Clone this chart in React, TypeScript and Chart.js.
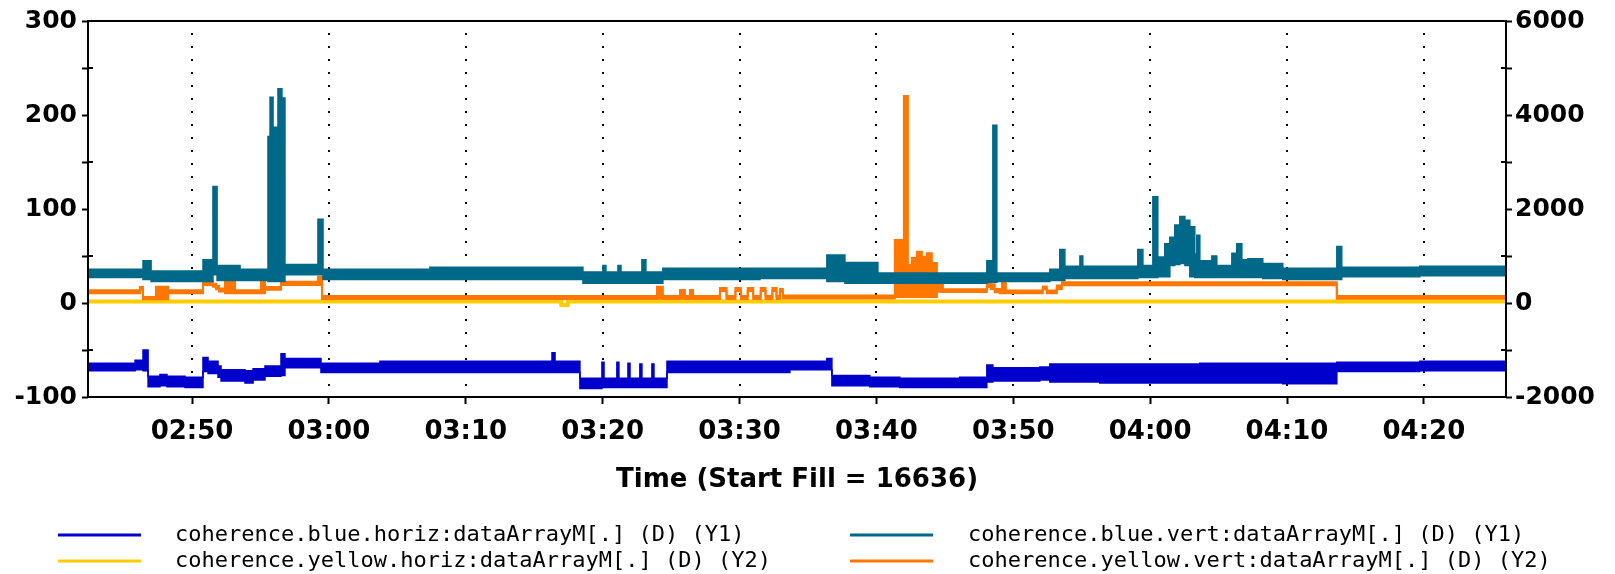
import React, { useEffect, useRef } from 'react';
import { Chart, registerables } from 'chart.js';

Chart.register(...registerables);

// ---- axis ranges / ticks (time in minutes after midnight) ----
const X_MIN = 162.4;
const X_MAX = 266.0;
const X_TICKS = [170, 180, 190, 200, 210, 220, 230, 240, 250, 260];
const Y1_MIN = -100;
const Y1_MAX = 300;
const Y2_MIN = -2000;
const Y2_MAX = 6000;

// ---- series: [time, upper edge, lower edge] of the plotted noisy trace ----
const BLUE_HORIZ: [number, number, number][] = [
  [162.4, -64, -72], [165.84, -61, -71], [166.42, -50, -72], [166.79, -78, -89],
  [167.66, -76, -88], [168.17, -78, -89], [169.49, -79, -90], [170.8, -58, -73],
  [171.17, -62, -75], [171.9, -67, -79], [172.12, -71, -83], [173.87, -72, -85],
  [174.46, -70, -82], [175.33, -67, -78], [176.5, -54, -77], [176.79, -59, -69],
  [179.42, -64, -74], [183.73, -62, -74], [196.3, -53, -74], [196.52, -62, -74],
  [198.34, -80, -91], [199.95, -63, -90], [200.1, -80, -90], [201.04, -63, -90],
  [201.19, -80, -90], [201.85, -64, -90], [202.0, -80, -90], [202.72, -65, -90],
  [202.87, -80, -90], [203.6, -65, -90], [203.75, -80, -90], [204.7, -62, -74],
  [213.68, -62, -71], [216.38, -59, -71], [216.75, -77, -88], [219.52, -79, -89],
  [221.71, -80, -90], [226.09, -79, -90], [228.07, -66, -84], [228.51, -69, -83],
  [231.94, -68, -82], [232.67, -65, -84], [236.32, -65, -85], [243.63, -64, -85],
  [249.69, -64, -86], [253.64, -63, -73], [259.7, -62, -72], [266.0, -62, -72],
];

const BLUE_VERT: [number, number, number][] = [
  [162.4, 36, 27], [166.42, 45, 25], [167.01, 34, 23], [170.8, 46, 23],
  [171.53, 124, 30], [171.83, 40, 24], [173.51, 36, 24], [175.55, 177, 23],
  [175.7, 219, 23], [175.92, 187, 23], [176.28, 228, 23], [176.57, 218, 23],
  [176.79, 41, 30], [179.2, 89, 30], [179.57, 36, 25], [187.38, 38, 25],
  [198.56, 33, 21], [200.02, 40, 21], [200.24, 33, 21], [201.12, 40, 21],
  [201.34, 33, 21], [202.87, 46, 21], [203.16, 33, 21], [204.4, 37, 25],
  [211.49, 37, 26], [216.38, 51, 23], [217.7, 43, 21], [220.11, 32, 21],
  [228.07, 45, 22], [228.51, 189, 22], [228.8, 32, 23], [232.67, 36, 24],
  [233.4, 57, 24], [233.77, 39, 26], [234.87, 50, 26], [235.08, 39, 26],
  [239.1, 57, 27], [239.47, 40, 27], [240.2, 113, 27], [240.56, 49, 28],
  [241.07, 63, 28], [241.44, 70, 40], [241.8, 83, 41], [242.17, 92, 42],
  [242.54, 88, 40], [242.9, 81, 28], [243.26, 52, 27], [243.41, 72, 27],
  [243.63, 45, 27], [244.51, 50, 27], [244.87, 40, 27], [245.97, 53, 27],
  [246.33, 63, 27], [246.7, 46, 27], [247.14, 47, 27], [248.23, 42, 26],
  [249.69, 37, 25], [253.64, 60, 25], [254.0, 38, 28], [259.7, 39, 29],
  [266.0, 39, 29],
];

const YELLOW_VERT: [number, number, number][] = [
  [162.4, 270, 210], [166.2, 340, 280], [166.42, 130, 80], [167.37, 345, 80],
  [168.25, 270, 210], [170.8, 450, 385], [171.53, 410, 345], [171.75, 360, 295],
  [171.97, 310, 245], [172.41, 450, 210], [173.14, 270, 210], [175.04, 450, 210],
  [175.33, 340, 280], [176.5, 450, 385], [179.2, 560, 385], [179.5, 150, 85],
  [203.97, 347, 90], [204.4, 150, 85], [205.65, 277, 90], [206.01, 150, 85],
  [206.38, 277, 90], [206.6, 150, 85], [208.57, 320, 255], [209.05, 150, 85],
  [209.7, 320, 255], [210.1, 150, 85], [210.6, 320, 255], [211.0, 150, 85],
  [211.55, 320, 255], [211.9, 150, 85], [212.4, 320, 255], [212.7, 150, 85],
  [212.95, 300, 240], [213.17, 160, 95], [221.35, 1340, 130], [222.01, 4404, 130],
  [222.3, 808, 130], [222.59, 957, 130], [222.96, 1092, 130], [223.32, 985, 130],
  [223.69, 1060, 130], [224.05, 850, 130], [224.42, 430, 240], [224.86, 295, 235],
  [228.07, 480, 340], [228.36, 400, 300], [228.65, 300, 230], [229.02, 265, 205],
  [229.17, 480, 205], [229.46, 265, 205], [232.16, 350, 290], [232.45, 265, 205],
  [233.18, 370, 300], [233.55, 440, 380], [253.64, 150, 90], [266.0, 150, 90],
];

const YELLOW_HORIZ: [number, number][] = [
  [162.4, 30], [196.98, -40], [197.45, 30], [266.0, 30],
];

const LABELS = [
  'coherence.blue.horiz:dataArrayM[.] (D) (Y1)',
  'coherence.blue.vert:dataArrayM[.] (D) (Y1)',
  'coherence.yellow.horiz:dataArrayM[.] (D) (Y2)',
  'coherence.yellow.vert:dataArrayM[.] (D) (Y2)',
];
const X_TITLE = 'Time (Start Fill = 16636)';

const C_BLUE = '#0000cc';
const C_TEAL = '#006888';
const C_YELLOW = '#ffcc00';
const C_ORANGE = '#ff7700';

const FAMILY = "'DejaVu Sans', 'Liberation Sans', sans-serif";
const MONO = "'DejaVu Sans Mono', 'Liberation Mono', monospace";

function hhmm(v: number): string {
  const h = Math.floor(v / 60);
  const m = Math.round(v - h * 60);
  return String(h).padStart(2, '0') + ':' + String(m).padStart(2, '0');
}

const pts = (arr: number[][], i: number) => arr.map((r) => ({ x: r[0], y: r[i] }));

const framePlugin = {
  id: 'frame',
  beforeDatasetsDraw(chart: any) {
    const { ctx, chartArea, scales } = chart;
    ctx.save();
    ctx.strokeStyle = '#000';
    ctx.lineWidth = 2;
    ctx.setLineDash([2, 11]);
    for (const t of X_TICKS) {
      const px = Math.round(scales.x.getPixelForValue(t));
      ctx.beginPath();
      ctx.moveTo(px, chartArea.top + 12);
      ctx.lineTo(px, chartArea.bottom);
      ctx.stroke();
    }
    ctx.restore();
  },
  afterDatasetsDraw(chart: any) {
    const { ctx, chartArea, scales } = chart;
    const { left, right, top, bottom } = chartArea;
    ctx.save();
    ctx.strokeStyle = '#000';
    ctx.lineWidth = 2;
    ctx.strokeRect(left, top, right - left, bottom - top);
    for (const v of [-50, 50, 150, 250]) {
      const py = Math.round(scales.y.getPixelForValue(v));
      ctx.beginPath();
      ctx.moveTo(left, py);
      ctx.lineTo(left + 5, py);
      ctx.moveTo(right - 5, py);
      ctx.lineTo(right, py);
      ctx.stroke();
    }
    ctx.restore();
  },
  afterDraw(chart: any) {
    const { ctx, chartArea } = chart;
    ctx.save();
    ctx.fillStyle = '#000';
    ctx.font = `bold 26px ${FAMILY}`;
    ctx.textAlign = 'center';
    ctx.textBaseline = 'middle';
    ctx.fillText(X_TITLE, (chartArea.left + chartArea.right) / 2, 480);

    const colors = [C_BLUE, C_TEAL, C_YELLOW, C_ORANGE];
    const colLine = [58, 850];
    const colText = [175, 968];
    const rowY = [535, 561];
    ctx.font = `22px ${MONO}`;
    ctx.textAlign = 'left';
    LABELS.forEach((lab, i) => {
      const col = i % 2;
      const row = Math.floor(i / 2);
      ctx.strokeStyle = colors[i];
      ctx.lineWidth = 3;
      ctx.beginPath();
      ctx.moveTo(colLine[col], rowY[row]);
      ctx.lineTo(colLine[col] + 83, rowY[row]);
      ctx.stroke();
      ctx.fillStyle = '#000';
      ctx.fillText(lab, colText[col], rowY[row]);
    });
    ctx.restore();
  },
};

export default function App() {
  const ref = useRef<HTMLCanvasElement | null>(null);

  useEffect(() => {
    document.body.style.margin = '0';
    const canvas = ref.current;
    if (!canvas) return;

    const band = (label: string, arr: number[][], color: string, axis: string, w: number) => [
      {
        label,
        data: pts(arr, 1),
        yAxisID: axis,
        borderColor: color,
        backgroundColor: color,
        borderWidth: w,
        pointRadius: 0,
        stepped: true,
        fill: '+1',
      },
      {
        label: label + ' (low)',
        data: pts(arr, 2),
        yAxisID: axis,
        borderColor: color,
        backgroundColor: color,
        borderWidth: w,
        pointRadius: 0,
        stepped: true,
        fill: false,
      },
    ];

    const tickFont = { family: FAMILY, size: 25, weight: 'bold' as const };

    const chart = new Chart(canvas, {
      type: 'line',
      data: {
        datasets: [
          ...band(LABELS[1], BLUE_VERT, C_TEAL, 'y', 1.5),
          ...band(LABELS[0], BLUE_HORIZ, C_BLUE, 'y', 1.5),
          ...band(LABELS[3], YELLOW_VERT, C_ORANGE, 'y2', 2),
          {
            label: LABELS[2],
            data: pts(YELLOW_HORIZ, 1),
            yAxisID: 'y2',
            borderColor: C_YELLOW,
            backgroundColor: C_YELLOW,
            borderWidth: 4,
            pointRadius: 0,
            stepped: true,
            fill: false,
          },
        ] as any,
      },
      options: {
        animation: false,
        responsive: true,
        maintainAspectRatio: false,
        events: [],
        layout: { padding: { top: 21, left: 0, right: 0, bottom: 0 } },
        plugins: { legend: { display: false }, tooltip: { enabled: false } },
        scales: {
          x: {
            type: 'linear',
            min: X_MIN,
            max: X_MAX,
            afterBuildTicks: (axis: any) => {
              axis.ticks = X_TICKS.map((v) => ({ value: v }));
            },
            afterFit: (s: any) => {
              s.height = 177;
            },
            ticks: {
              callback: (v: any) => hhmm(Number(v)),
              font: { family: FAMILY, size: 26, weight: 'bold' },
              color: '#000',
              padding: 13,
              maxRotation: 0,
              autoSkip: false,
            },
            grid: { drawOnChartArea: false, tickLength: 7, tickColor: '#000', tickWidth: 2 },
            border: { display: false },
          },
          y: {
            type: 'linear',
            position: 'left',
            min: Y1_MIN,
            max: Y1_MAX,
            afterFit: (s: any) => {
              s.width = 88;
            },
            ticks: {
              stepSize: 50,
              callback: (v: any) => (Number(v) % 100 === 0 ? String(v) : ''),
              font: tickFont,
              color: '#000',
              padding: 5,
              autoSkip: false,
            },
            grid: { drawOnChartArea: false, tickLength: 6, tickColor: '#000', tickWidth: 2 },
            border: { display: false },
          },
          y2: {
            type: 'linear',
            position: 'right',
            min: Y2_MIN,
            max: Y2_MAX,
            afterFit: (s: any) => {
              s.width = 109;
            },
            ticks: {
              stepSize: 1000,
              callback: (v: any) => (Number(v) % 2000 === 0 ? String(v) : ''),
              font: tickFont,
              color: '#000',
              padding: 3,
              autoSkip: false,
            },
            grid: { drawOnChartArea: false, tickLength: 6, tickColor: '#000', tickWidth: 2 },
            border: { display: false },
          },
        },
      } as any,
      plugins: [framePlugin],
    });

    return () => chart.destroy();
  }, []);

  return (
    <div style={{ position: 'relative', width: '1615px', height: '574px' }}>
      <canvas ref={ref} />
    </div>
  );
}
